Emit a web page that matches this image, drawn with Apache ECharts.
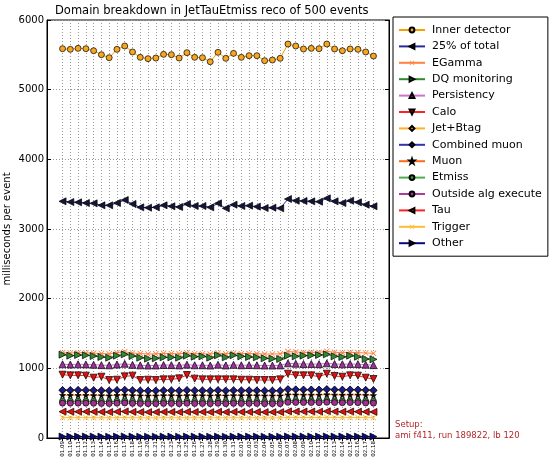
<!DOCTYPE html>
<html>
<head>
<meta charset="utf-8">
<script src="https://cdn.jsdelivr.net/npm/echarts@6/dist/echarts.min.js"></script>
<style>
  html, body { margin: 0; padding: 0; background: #fff; }
  #chart { width: 550px; height: 457px; }
</style>
</head>
<body>
<div id="chart"></div>
<script>
// Run dates (month.day)
const dates = [
  '01.09','01.10','01.11','01.12','01.13','01.14','01.15','01.16','01.17','01.18',
  '01.19','01.20','01.21','01.22','01.23','01.24','01.25','01.26','01.27','01.28',
  '01.29','01.30','01.31','02.01','02.02','02.03','02.04','02.05','02.06','02.07',
  '02.08','02.09','02.10','02.11','02.12','02.13','02.14','02.15','02.16','02.17','02.18'
];

// Per-domain timing, milliseconds per event
const innerDetector = [5588,5579,5593,5588,5559,5502,5459,5579,5627,5541,5464,5445,5454,5507,5502,5454,5531,5464,5459,5401,5536,5450,5521,5464,5488,5488,5416,5426,5450,5655,5627,5584,5593,5588,5655,5584,5559,5584,5579,5541,5483];
const quarterOfTotal = [3397,3387,3383,3373,3368,3340,3340,3373,3416,3359,3311,3306,3311,3340,3326,3316,3359,3330,3330,3311,3368,3297,3349,3330,3335,3321,3301,3306,3297,3430,3406,3402,3397,3392,3440,3397,3373,3406,3383,3349,3326];
const eGamma = [1225,1220,1225,1222,1218,1212,1208,1225,1238,1220,1212,1205,1208,1215,1212,1208,1222,1210,1210,1205,1220,1208,1218,1210,1212,1210,1205,1206,1208,1240,1235,1228,1230,1228,1245,1230,1225,1228,1226,1220,1215];
const dqMonitoring = [1196,1182,1191,1187,1177,1163,1153,1182,1201,1177,1153,1139,1144,1158,1158,1153,1182,1167,1172,1153,1187,1158,1187,1172,1163,1158,1144,1139,1134,1182,1172,1182,1187,1191,1201,1172,1163,1182,1167,1134,1129];
const persistency = [1058,1055,1058,1056,1052,1046,1043,1055,1065,1050,1043,1040,1041,1048,1046,1042,1053,1044,1044,1040,1052,1041,1050,1044,1046,1044,1040,1040,1042,1072,1066,1062,1062,1060,1072,1062,1058,1062,1060,1052,1046];
const calo = [909,899,899,895,866,880,832,837,885,895,832,837,832,842,842,856,904,852,842,842,842,842,842,837,837,832,832,832,842,923,899,899,899,880,923,890,880,899,895,866,847];
const jetBtag = [682,680,682,681,679,676,674,680,685,678,674,672,673,677,676,673,680,675,675,672,679,673,678,675,676,675,672,672,673,692,690,688,688,687,693,688,686,688,687,683,679];
const combinedMuon = [690,689,691,690,688,685,683,689,694,687,683,681,682,686,685,682,689,684,684,681,688,682,687,684,685,684,681,681,682,702,699,697,697,696,703,697,695,697,696,692,688];
const muon = [614,613,614,614,612,610,608,613,617,611,608,607,607,610,610,607,612,609,609,607,612,607,611,609,610,609,607,607,607,622,620,618,618,618,623,618,617,618,618,615,612];
const etmiss = [528,527,528,528,526,524,522,527,531,525,522,521,521,524,524,521,526,523,523,521,526,521,525,523,524,523,521,521,521,537,535,533,533,532,538,533,531,533,532,529,526];
const outsideAlg = [500,499,500,500,498,496,494,499,503,497,494,493,493,496,496,493,498,495,495,493,498,493,497,495,496,495,493,493,493,512,510,508,508,507,513,508,506,508,507,503,500];
const tau = [378,377,378,378,376,374,372,377,381,375,372,371,371,374,374,371,376,373,373,371,376,371,375,373,374,373,371,371,371,382,380,379,379,378,383,379,377,379,378,376,374];
const trigger = [293,292,293,293,292,291,290,292,294,291,290,289,289,291,291,289,292,290,290,289,292,289,291,290,291,290,289,289,289,296,295,294,294,294,297,294,293,294,294,292,291];
const other = [21,20,21,21,20,20,19,20,22,20,19,19,19,20,20,19,20,20,20,19,20,19,20,20,20,20,19,19,19,22,21,21,21,21,22,21,21,21,21,20,20];

const yTicks = [0, 1000, 2000, 3000, 4000, 5000, 6000];

// Two empty slots on each side give the plot some breathing room
const PAD = 2;
const axisCats = ['pad-2', 'pad-1'].concat(dates, ['pad+1', 'pad+2']);
const isReal = (i) => i >= PAD && i < PAD + dates.length;

// Marker shapes (triangles are the built-in one, rotated)
const CROSS = 'path://M0,1 L1,0 L5,4 L9,0 L10,1 L6,5 L10,9 L9,10 L5,6 L1,10 L0,9 L4,5 Z';
const STAR = 'path://M5,0 L6.2,3.6 L10,3.6 L6.9,5.8 L8.1,9.5 L5,7.2 L1.9,9.5 L3.1,5.8 L0,3.6 L3.8,3.6 Z';
const UP = 0, LEFT = 90, DOWN = 180, RIGHT = -90;

const domains = [
  { name: 'Inner detector', values: innerDetector, line: '#f5a000', fill: '#f5a623', symbol: 'circle', rot: 0, size: 6, edge: '#000' },
  { name: '25% of total', values: quarterOfTotal, line: '#2b2ba0', fill: '#15153a', symbol: 'triangle', rot: LEFT, size: 7, edge: '#000' },
  { name: 'EGamma', values: eGamma, line: '#ff8040', fill: '#ff8040', symbol: CROSS, rot: 0, size: 6, edge: null },
  { name: 'DQ monitoring', values: dqMonitoring, line: '#2e8b2e', fill: '#2e8b2e', symbol: 'triangle', rot: RIGHT, size: 7, edge: '#000' },
  { name: 'Persistency', values: persistency, line: '#d070d0', fill: '#993399', symbol: 'triangle', rot: UP, size: 7, edge: '#000' },
  { name: 'Calo', values: calo, line: '#ff2020', fill: '#e01010', symbol: 'triangle', rot: DOWN, size: 7, edge: '#000' },
  { name: 'Jet+Btag', values: jetBtag, line: '#ffb020', fill: '#ffb020', symbol: 'diamond', rot: 0, size: 7, edge: '#000' },
  { name: 'Combined muon', values: combinedMuon, line: '#3333aa', fill: '#1a1a8c', symbol: 'diamond', rot: 0, size: 7, edge: '#000' },
  { name: 'Muon', values: muon, line: '#ff6a1a', fill: '#000', symbol: STAR, rot: 0, size: 6, edge: '#000' },
  { name: 'Etmiss', values: etmiss, line: '#4caf4c', fill: '#3a9a3a', symbol: 'circle', rot: 0, size: 6, edge: '#000' },
  { name: 'Outside alg execute', values: outsideAlg, line: '#b03aa0', fill: '#a0308f', symbol: 'circle', rot: 0, size: 6, edge: '#000' },
  { name: 'Tau', values: tau, line: '#ff2020', fill: '#e01010', symbol: 'triangle', rot: LEFT, size: 7, edge: '#000' },
  { name: 'Trigger', values: trigger, line: '#ffbb33', fill: '#ffbb33', symbol: CROSS, rot: 0, size: 6, edge: null },
  { name: 'Other', values: other, line: '#0a0a80', fill: '#0a0a80', symbol: 'triangle', rot: RIGHT, size: 7, edge: '#000' }
];

const FONT = 'DejaVu Sans';
const gridLine = { show: true, lineStyle: { color: '#9a9a9a', type: [1, 2], width: 1 } };

const chart = echarts.init(document.getElementById('chart'), null, { renderer: 'canvas' });

const option = {
  animation: false,
  backgroundColor: '#fff',
  textStyle: { fontFamily: FONT },
  grid: {
    left: 47, right: 161, top: 20, bottom: 19,
    outerBoundsMode: 'none',
    containLabel: false,
    show: true, borderColor: '#000', borderWidth: 1
  },
  legend: {
    orient: 'vertical',
    left: 393, top: 17,
    padding: [6, 6, 6, 5],
    itemGap: 2.4,
    itemWidth: 26,
    itemHeight: 6,
    backgroundColor: '#fff',
    borderColor: '#000',
    borderWidth: 1,
    borderRadius: 0,
    textStyle: { fontFamily: FONT, fontSize: 11, color: '#000', lineHeight: 14, padding: [0, 0, 0, 2] },
    data: domains.map(d => d.name)
  },
  xAxis: [
    {
      type: 'category',
      data: axisCats,
      boundaryGap: false,
      axisLine: { lineStyle: { color: '#000', width: 1 } },
      axisTick: { inside: true, length: 3, interval: (i) => isReal(i), lineStyle: { color: '#000' } },
      axisLabel: {
        interval: (i) => isReal(i),
        formatter: (v, i) => (isReal(i) ? v : ''),
        rotate: 90, fontSize: 5.5, color: '#000', margin: 3, fontFamily: FONT
      },
      splitLine: Object.assign({ interval: (i) => isReal(i) }, gridLine)
    },
    {
      type: 'category',
      data: axisCats,
      boundaryGap: false,
      position: 'top',
      axisLine: { lineStyle: { color: '#000', width: 1 } },
      axisTick: { inside: true, length: 3, interval: (i) => isReal(i), lineStyle: { color: '#000' } },
      axisLabel: { show: false },
      splitLine: { show: false }
    }
  ],
  yAxis: [
    {
      type: 'value',
      min: yTicks[0], max: yTicks[yTicks.length - 1], interval: 1000,
      name: 'milliseconds per event',
      nameLocation: 'middle',
      nameGap: 35,
      nameMoveOverlap: false,
      nameTextStyle: { fontFamily: FONT, fontSize: 10, color: '#000' },
      axisLine: { show: true, lineStyle: { color: '#000', width: 1 } },
      axisTick: { show: true, inside: true, length: 4, lineStyle: { color: '#000' } },
      axisLabel: { fontSize: 10, color: '#000', margin: 3, fontFamily: FONT, formatter: (v) => String(v) },
      splitLine: gridLine
    },
    {
      type: 'value',
      min: yTicks[0], max: yTicks[yTicks.length - 1], interval: 1000,
      position: 'right',
      axisLine: { show: true, lineStyle: { color: '#000', width: 1 } },
      axisTick: { show: true, inside: true, length: 4, lineStyle: { color: '#000' } },
      axisLabel: { show: false },
      splitLine: { show: false }
    }
  ],
  series: domains.map(d => ({
    name: d.name,
    type: 'line',
    xAxisIndex: 0,
    yAxisIndex: 0,
    data: d.values.map((v, i) => [i + PAD, v]),
    symbol: d.symbol,
    symbolRotate: d.rot,
    symbolSize: d.size,
    showSymbol: true,
    lineStyle: { color: d.line, width: 1 },
    itemStyle: {
      color: d.fill,
      borderColor: d.edge || d.fill,
      borderWidth: d.edge ? 0.7 : 0
    },
    emphasis: { disabled: true }
  })),
  graphic: [
    {
      type: 'text',
      left: 218 - 163, top: 5,
      style: { text: 'Domain breakdown in JetTauEtmiss reco of 500 events', fontFamily: FONT, fontSize: 11.5, fill: '#000' }
    },
    {
      type: 'text',
      left: 395, top: 419,
      style: { text: 'Setup:\nami f411, run 189822, lb 120', fontFamily: FONT, fontSize: 8.5, lineHeight: 11, fill: '#b0282a' }
    }
  ]
};

chart.setOption(option);
</script>
</body>
</html>
